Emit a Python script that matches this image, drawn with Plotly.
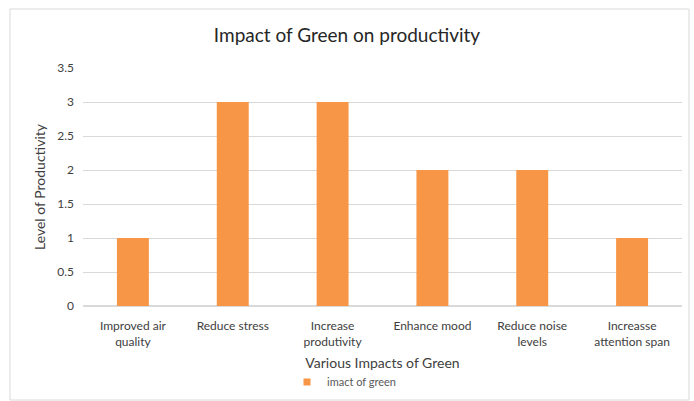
import plotly.graph_objects as go

categories = ["Improved air<br>quality", "Reduce stress", "Increase<br>produtivity",
              "Enhance mood", "Reduce noise<br>levels", "Increasse<br>attention span"]
values = [1, 3, 3, 2, 2, 1]
series_name = "imact of green"
y_ticks = [0, 0.5, 1, 1.5, 2, 2.5, 3, 3.5]

FONT = "Lato, Carlito, 'Open Sans', sans-serif"
ORANGE = "#F79646"

fig = go.Figure()
fig.add_trace(go.Bar(x=categories, y=values, name=series_name, showlegend=False,
                     marker=dict(color=ORANGE, line=dict(width=0))))
fig.add_trace(go.Scatter(x=[None], y=[None], mode="markers", name=series_name,
                         marker=dict(symbol="square", size=7, color=ORANGE)))

L, R, T, B = 83, 12, 68, 95
W, H = 694, 401
pw, ph = W - L - R, H - T - B

fig.update_layout(
    width=W, height=H,
    margin=dict(l=L, r=R, t=T, b=B, autoexpand=False),
    paper_bgcolor="white", plot_bgcolor="white",
    font=dict(family=FONT, color="#595959", size=12),
    title=dict(text="Impact of Green on productivity", x=0.5, xanchor="center",
               y=1 - 35 / H, yanchor="middle",
               font=dict(size=19, color="#262626", family=FONT)),
    bargap=0.68,
    showlegend=True,
    legend=dict(orientation="h", x=0.5 - 38 / pw, xanchor="center", y=(306 - 382) / ph,
                yanchor="middle", font=dict(size=11, color="#595959"),
                itemwidth=30),
    xaxis=dict(showgrid=False, showline=False, ticks="", tickfont=dict(size=12, color="#404040"),
               ticklabelstandoff=11,
               title=dict(text="Various Impacts of Green", font=dict(size=14, color="#404040"),
                          standoff=10)),
    yaxis=dict(range=[0, 3.5], tickvals=y_ticks, ticktext=[f"{v:g}" for v in y_ticks],
               showgrid=True, gridcolor="#d9d9d9", gridwidth=1, zeroline=True,
               zerolinecolor="#d9d9d9", showline=False, ticks="",
               tickfont=dict(size=12, color="#404040"), ticklabelstandoff=8,
               title=dict(text="Level of Productivity", font=dict(size=14, color="#404040"),
                          standoff=8)),
)

fig.add_shape(type="rect", xref="paper", yref="paper",
              x0=(10 - L) / pw, x1=(689 - L) / pw,
              y0=(306 - 400) / ph, y1=(306 - 9) / ph,
              line=dict(color="#d9d9d9", width=1), fillcolor="rgba(0,0,0,0)", layer="below")

fig.write_html("out.html")
